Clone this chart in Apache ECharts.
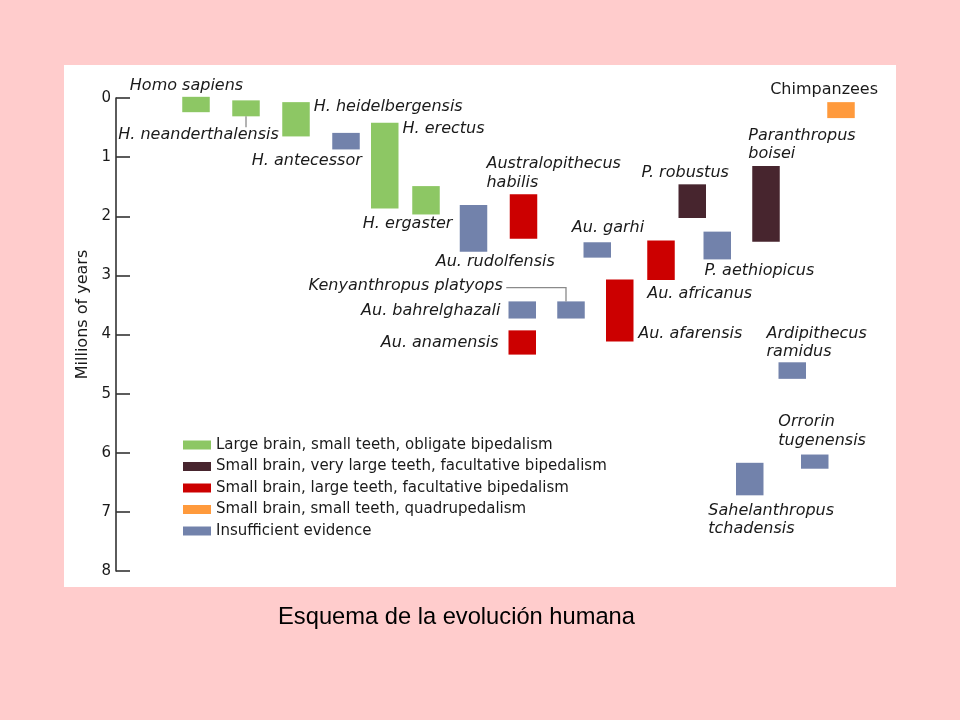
<!DOCTYPE html>
<html>
<head>
<meta charset="utf-8">
<script src="https://cdn.jsdelivr.net/npm/echarts@6/dist/echarts.min.js"></script>
<style>
  html, body { margin: 0; padding: 0; background: #FFCCCC; }
  #chart { width: 960px; height: 720px; }
</style>
</head>
<body>
<div id="chart"></div>
<script>
// ---- data ----
const groups = [
  'Large brain, small teeth, obligate bipedalism',
  'Small brain, very large teeth, facultative bipedalism',
  'Small brain, large teeth, facultative bipedalism',
  'Small brain, small teeth, quadrupedalism',
  'Insufficient evidence'
];
const species = [
  'Homo sapiens', 'H. neanderthalensis', 'H. heidelbergensis', 'H. antecessor',
  'H. erectus', 'H. ergaster', 'Au. rudolfensis', 'Australopithecus\nhabilis',
  'Au. garhi', 'Au. africanus', 'P. robustus', 'P. aethiopicus',
  'Paranthropus\nboisei', 'Chimpanzees', 'Kenyanthropus platyops', 'Au. bahrelghazali',
  'Au. anamensis', 'Au. afarensis', 'Ardipithecus\nramidus', 'Orrorin\ntugenensis',
  'Sahelanthropus\ntchadensis'
];
const column   = [3.2, 5.2, 7.2, 9.2, 10.75, 12.4, 14.3, 16.3, 19.25, 21.8, 23.05, 24.05, 26.0, 29.0, 18.2, 16.25, 16.25, 20.15, 27.05, 27.95, 25.35];
const youngest = [-0.02, 0.04, 0.07, 0.59, 0.42, 1.49, 1.81, 1.63, 2.44, 2.41, 1.46, 2.26, 1.15, 0.07, 3.44, 3.44, 3.93, 3.07, 4.47, 6.03, 6.17];
const oldest   = [0.24, 0.31, 0.65, 0.87, 1.87, 1.97, 2.60, 2.38, 2.70, 3.08, 2.03, 2.73, 2.43, 0.34, 3.73, 3.73, 4.34, 4.12, 4.75, 6.27, 6.72];
const groupOf  = [0, 0, 0, 4, 0, 0, 4, 2, 4, 2, 1, 4, 1, 3, 4, 4, 2, 2, 4, 4, 4];
const yTicks   = [0, 1, 2, 3, 4, 5, 6, 7, 8];

// ---- styles / layout ----
const groupColors = ['#8DC764', '#47252E', '#CC0000', '#FF9A3C', '#7282AB'];
const barWidthUnits = 1.1;
const labelLayout = {
  'Homo sapiens':               { ax: 'c', ay: 't', dx: -9.5, dy: -11,   align: 'center' },
  'H. neanderthalensis':        { ax: 'r', ay: 'b', dx: 19,   dy: 19,    align: 'right', link: 'down' },
  'H. heidelbergensis':         { ax: 'r', ay: 't', dx: 4,    dy: 4.6,   align: 'left' },
  'H. antecessor':              { ax: 'r', ay: 'b', dx: 2,    dy: 11.7,  align: 'right' },
  'H. erectus':                 { ax: 'r', ay: 't', dx: 4,    dy: 5.7,   align: 'left' },
  'H. ergaster':                { ax: 'r', ay: 'b', dx: 12.7, dy: 9.3,   align: 'right' },
  'Au. rudolfensis':            { ax: 'l', ay: 'b', dx: -24,  dy: 10,    align: 'left' },
  'Australopithecus\nhabilis':  { ax: 'l', ay: 't', dx: -23.3, dy: -21,  align: 'left' },
  'Au. garhi':                  { ax: 'l', ay: 't', dx: -11.7, dy: -14.4, align: 'left' },
  'Au. africanus':              { ax: 'l', ay: 'b', dx: 0,    dy: 14,    align: 'left' },
  'P. robustus':                { ax: 'l', ay: 't', dx: -37,  dy: -11.7, align: 'left' },
  'P. aethiopicus':             { ax: 'l', ay: 'b', dx: 1,    dy: 11,    align: 'left' },
  'Paranthropus\nboisei':       { ax: 'l', ay: 't', dx: -4,   dy: -21,   align: 'left' },
  'Chimpanzees':                { ax: 'r', ay: 't', dx: 23.3, dy: -12.3, align: 'right', upright: true },
  'Kenyanthropus platyops':     { ax: 'l', ay: 't', dx: -54.4, dy: -15.3, align: 'right', link: 'elbow' },
  'Au. bahrelghazali':          { ax: 'l', ay: 'm', dx: -8,   dy: 1,     align: 'right' },
  'Au. anamensis':              { ax: 'l', ay: 'm', dx: -10,  dy: 0,     align: 'right' },
  'Au. afarensis':              { ax: 'r', ay: 'b', dx: 4.7,  dy: -8,    align: 'left' },
  'Ardipithecus\nramidus':      { ax: 'l', ay: 't', dx: -12,  dy: -19.4, align: 'left' },
  'Orrorin\ntugenensis':        { ax: 'l', ay: 't', dx: -22.7, dy: -23.3, align: 'left' },
  'Sahelanthropus\ntchadensis': { ax: 'l', ay: 'b', dx: -27.7, dy: 24.5, align: 'left' }
};

function renderItem(params, api) {
  const c = api.value(0);
  const idx = api.value(3);
  const p0 = api.coord([c, api.value(1)]);
  const p1 = api.coord([c, api.value(2)]);
  const w = api.size([barWidthUnits, 0])[0];
  const x0 = p0[0] - w / 2, x1 = p0[0] + w / 2, yt = p0[1], yb = p1[1];
  const name = species[idx];
  const L = labelLayout[name];
  const children = [{
    type: 'rect',
    shape: { x: x0, y: yt, width: w, height: yb - yt },
    style: { fill: api.visual('color') }
  }];
  if (L) {
    const axv = L.ax === 'l' ? x0 : (L.ax === 'r' ? x1 : p0[0]);
    const ayv = L.ay === 't' ? yt : (L.ay === 'b' ? yb : (yt + yb) / 2);
    const tx = axv + L.dx, ty = ayv + L.dy;
    children.push({
      type: 'text',
      style: {
        text: name, x: tx, y: ty,
        align: L.align, textAlign: L.align,
        verticalAlign: 'middle', textVerticalAlign: 'middle',
        font: (L.upright ? '' : 'italic ') + '16px "DejaVu Sans"',
        lineHeight: 18.5,
        fill: '#1a1a1a'
      }
    });
    if (L.link === 'down') {
      children.push({
        type: 'polyline',
        shape: { points: [[p0[0], yb], [p0[0], yb + 11]] },
        style: { stroke: '#8a8a8a', lineWidth: 1.3, fill: null }
      });
    } else if (L.link === 'elbow') {
      children.push({
        type: 'polyline',
        shape: { points: [[tx + 3.4, ty + 1.5], [p0[0] - 5, ty + 1.5], [p0[0] - 5, yt]] },
        style: { stroke: '#8a8a8a', lineWidth: 1.3, fill: null }
      });
    }
  }
  return { type: 'group', children: children };
}

const series = groups.map(function (g, gi) {
  const data = [];
  for (let i = 0; i < species.length; i++) {
    if (groupOf[i] === gi) data.push([column[i], youngest[i], oldest[i], i]);
  }
  return {
    name: g,
    type: 'custom',
    renderItem: renderItem,
    itemStyle: { color: groupColors[gi] },
    encode: { x: 0, y: [1, 2] },
    data: data,
    silent: true
  };
});

const chart = echarts.init(document.getElementById('chart'));
chart.setOption({
  backgroundColor: '#FFCCCC',
  animation: false,
  graphic: [
    { type: 'rect', z: -10, silent: true,
      shape: { x: 64, y: 65, width: 832, height: 522 },
      style: { fill: '#FFFFFF' } },
    { type: 'text', silent: true,
      style: { text: 'Esquema de la evolución humana', x: 456.5, y: 617,
        align: 'center', textAlign: 'center', verticalAlign: 'middle', textVerticalAlign: 'middle',
        font: '23.7px "Liberation Sans", Arial, sans-serif', fill: '#000000' } }
  ],
  grid: { left: 116, right: 44, top: 98, bottom: 149 },
  legend: {
    orient: 'vertical',
    left: 178, top: 432,
    icon: 'rect',
    itemWidth: 28, itemHeight: 9,
    itemGap: 5.5,
    selectedMode: false,
    data: groups,
    textStyle: { fontFamily: 'DejaVu Sans', fontSize: 15, color: '#1a1a1a', lineHeight: 16 }
  },
  xAxis: { type: 'value', min: 0, max: 32, show: false },
  yAxis: {
    type: 'value', inverse: true, min: 0, max: 8, interval: 1,
    name: 'Millions of years', nameLocation: 'middle', nameGap: 21.5, nameRotate: 90,
    nameTextStyle: { fontFamily: 'DejaVu Sans', fontSize: 16, color: '#1a1a1a', padding: [0, 0, 0, 40] },
    axisLine: { show: true, lineStyle: { color: '#333333', width: 1.6 } },
    axisTick: { show: true, inside: true, length: 14, lineStyle: { color: '#333333', width: 1.6 } },
    axisLabel: { fontFamily: 'DejaVu Sans', fontSize: 15, color: '#1a1a1a', margin: 5,
      formatter: function (v) { return yTicks.indexOf(v) >= 0 ? String(v) : ''; } },
    splitLine: { show: false }
  },
  series: series
});
</script>
</body>
</html>
